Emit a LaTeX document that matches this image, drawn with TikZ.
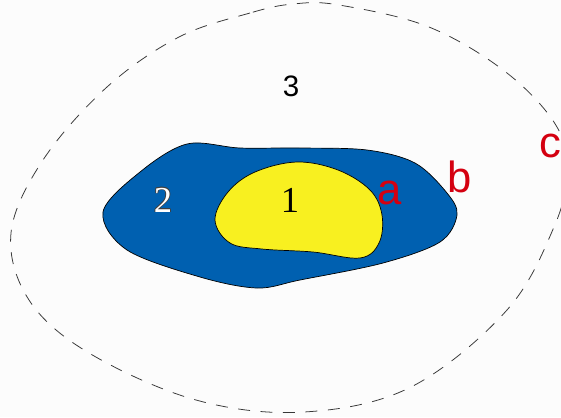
\documentclass[tikz,border=0pt]{standalone}
\usepackage{fontspec}
\setmainfont{Liberation Serif}
\newfontfamily\labelsans{Liberation Sans}
\usepackage{tikz}
\usetikzlibrary{calc}
\definecolor{zblue}{HTML}{0060B0}
\definecolor{zyellow}{HTML}{F8F020}
\definecolor{zred}{HTML}{D40010}
\definecolor{zback}{HTML}{FCFCFC}
\definecolor{zdash}{HTML}{383838}

\begin{document}
\begin{tikzpicture}[x=0.025cm, y=-0.025cm,
  region/.style={draw=black, line width=0.5pt},
  zone/.style={draw=zdash, line width=0.55pt, dash pattern=on 8.5pt off 7.5pt},
  redlabel/.style={text=zred, font=\labelsans\fontsize{31}{36}\selectfont, inner sep=0pt},
  numlabel/.style={font=\fontsize{26}{30}\selectfont, inner sep=0pt}]
\useasboundingbox (0,0) rectangle (561,417);
\fill[zback] (0,0) rectangle (561,417);
\clip (0,0) rectangle (561,417);
% outer zone
\draw[zone] plot[smooth cycle, tension=0.6] coordinates {(293,4) (250,13) (179,37) (107,87) (43,160) (11,233) (29,300) (89,353) (196,400) (304,412) (411,387) (507,310) (554,227) (566,175) (557,127) (507,73) (429,27) (339,5)};
% region 2
\draw[region, fill=zblue] plot[smooth cycle, tension=0.55] coordinates {(103,212) (140,172) (187,144) (240,148) (300,148) (367,150) (415,163) (447,193) (457,215) (440,242) (383,263) (300,280) (257,288) (200,277) (127,250)};
% region 1
\draw[region, fill=zyellow] plot[smooth cycle, tension=0.6] coordinates {(215,220) (228,192) (255,172) (297,162) (338,170) (370,190) (382,215) (379,243) (360,258) (313,252) (262,249) (230,243)};

\node[font=\labelsans\fontsize{21}{25}\selectfont, inner sep=0pt] (n3) at (291,86) {3};
\node[numlabel] (n1) at (290,200) {1};
\coordinate (p2) at (163,200);
\foreach \ang in {0,45,...,315}
  \node[numlabel, text=black!75] (r\ang) at ($(p2)+(\ang:0.55pt)$) {2};
\node[numlabel, text=white] (n2) at (p2) {2};
\node[redlabel] (la) at (390,193) {a};
\node[redlabel] (lb) at (460,177) {b};
\node[redlabel] (lc) at (550,146) {c};
\end{tikzpicture}
\end{document}
